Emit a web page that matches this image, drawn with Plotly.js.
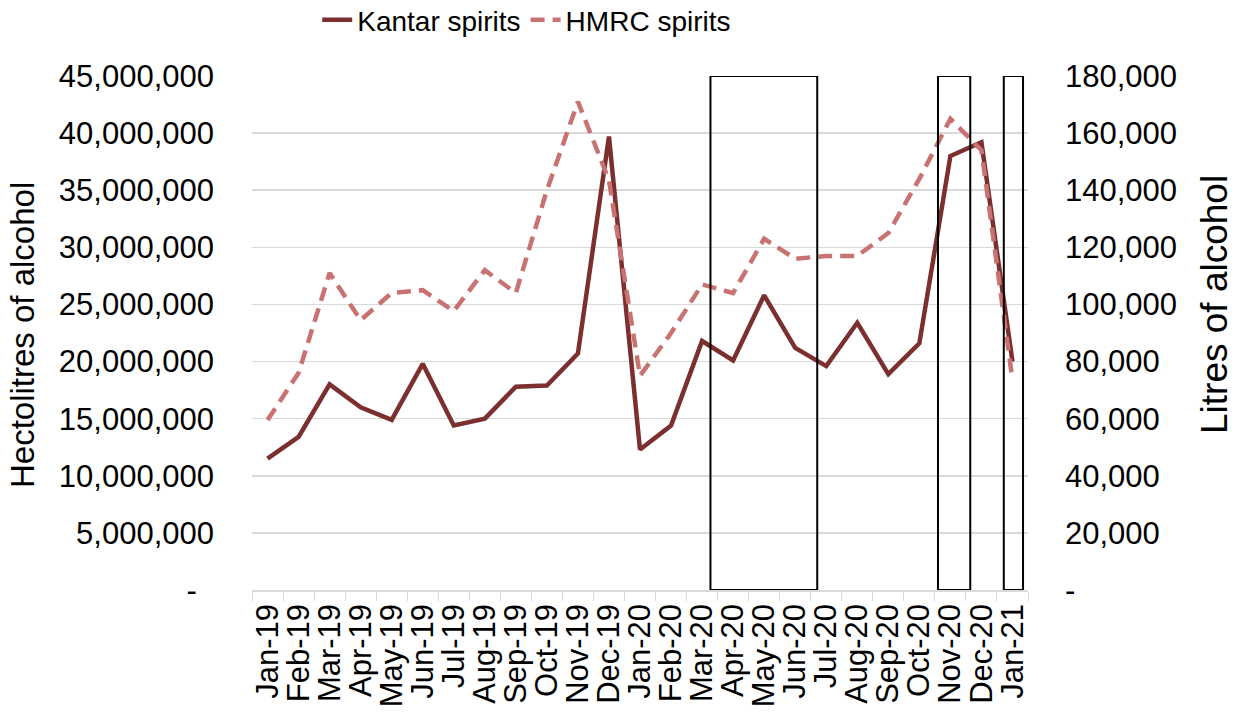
<!DOCTYPE html>
<html>
<head>
<meta charset="utf-8">
<script src="https://cdn.plot.ly/plotly-3.0.1.min.js"></script>
<style>html,body{margin:0;padding:0;background:#fff;}#chart{width:1237px;height:715px;}</style>
</head>
<body>
<div id="chart"></div>
<script>
const months = ["Jan-19","Feb-19","Mar-19","Apr-19","May-19","Jun-19","Jul-19","Aug-19","Sep-19","Oct-19","Nov-19","Dec-19",
  "Jan-20","Feb-20","Mar-20","Apr-20","May-20","Jun-20","Jul-20","Aug-20","Sep-20","Oct-20","Nov-20","Dec-20","Jan-21"];
const kantarSpirits = [11500000,13400000,18000000,16000000,14900000,19800000,14400000,15000000,17800000,17900000,20700000,39700000,
  12300000,14400000,21800000,20100000,25800000,21200000,19600000,23400000,18900000,21600000,38000000,39200000,20000000];
const hmrcSpirits = [59500,76000,111000,94500,104000,105000,97700,112000,104000,140000,171000,143500,
  75000,90000,107000,104000,123000,116000,117000,117000,125000,144000,165000,154000,73500];
const leftTickVals = [0,5000000,10000000,15000000,20000000,25000000,30000000,35000000,40000000,45000000];
const leftTickText = ["-\u00a0\u00a0","5,000,000","10,000,000","15,000,000","20,000,000","25,000,000","30,000,000","35,000,000","40,000,000","45,000,000"];
const rightTickVals = [0,20000,40000,60000,80000,100000,120000,140000,160000,180000];
const rightTickText = ["-","20,000","40,000","60,000","80,000","100,000","120,000","140,000","160,000","180,000"];
// highlighted periods, as fractional category positions [start, end]
const periods = [[14.27,17.71],[21.6,22.64],[23.72,24.34]];

const font = "Liberation Sans, Arial, sans-serif";
const traces = [
  {x: months, y: kantarSpirits, name: "Kantar spirits", type: "scatter", mode: "lines",
   line: {color: "#7b2f2f", width: 4.5}, yaxis: "y"},
  {x: months, y: hmrcSpirits, name: "HMRC spirits", type: "scatter", mode: "lines",
   line: {color: "#c97272", width: 4.5, dash: "14px,8px"}, yaxis: "y2"}
];
const shapes = periods.map(p => ({type: "rect", xref: "x", yref: "y", x0: p[0], x1: p[1], y0: 0, y1: 45000000,
  line: {color: "#000", width: 2}, fillcolor: "rgba(0,0,0,0)"}));
const layout = {
  width: 1237, height: 715,
  margin: {l: 252, r: 209, t: 76, b: 125},
  paper_bgcolor: "#fff", plot_bgcolor: "#fff",
  font: {family: font, color: "#000", size: 31},
  showlegend: true,
  legend: {orientation: "h", x: 0.354, xanchor: "center", y: 0.972, yanchor: "middle", yref: "container",
           font: {size: 28, family: font}, traceorder: "normal", bgcolor: "rgba(0,0,0,0)"},
  xaxis: {type: "category", tickangle: -90, tickfont: {size: 31}, showgrid: false,
          tickmode: "array", tickvals: months, ticktext: months,
          showline: true, linecolor: "#d9d9d9", linewidth: 1.5, ticks: "outside", ticklen: 9, tickcolor: "#d9d9d9",
          tickson: "boundaries", range: [-0.5, 24.5], zeroline: false},
  yaxis: {range: [0, 45000000], tickvals: leftTickVals, ticktext: leftTickText, showgrid: true, gridcolor: "#d9d9d9",
          gridwidth: 1.5, zeroline: false, ticks: "", ticklabelstandoff: 37, tickfont: {size: 31}},
  yaxis2: {range: [0, 180000], overlaying: "y", side: "right", tickvals: rightTickVals, ticktext: rightTickText,
           showgrid: false, zeroline: false, ticks: "", ticklabelstandoff: 36, tickfont: {size: 31}},
  annotations: [
    {text: "Hectolitres of alcohol", xref: "paper", yref: "paper", x: -0.2964, y: 0.496, xanchor: "center", yanchor: "middle",
     textangle: -90, showarrow: false, font: {size: 33}},
    {text: "Litres of alcohol", xref: "paper", yref: "paper", x: 1.241, y: 0.5545, xanchor: "center", yanchor: "middle",
     textangle: -90, showarrow: false, font: {size: 37}}
  ],
  shapes: shapes
};
Plotly.newPlot("chart", traces, layout, {displayModeBar: false, staticPlot: true});
</script>
</body>
</html>
